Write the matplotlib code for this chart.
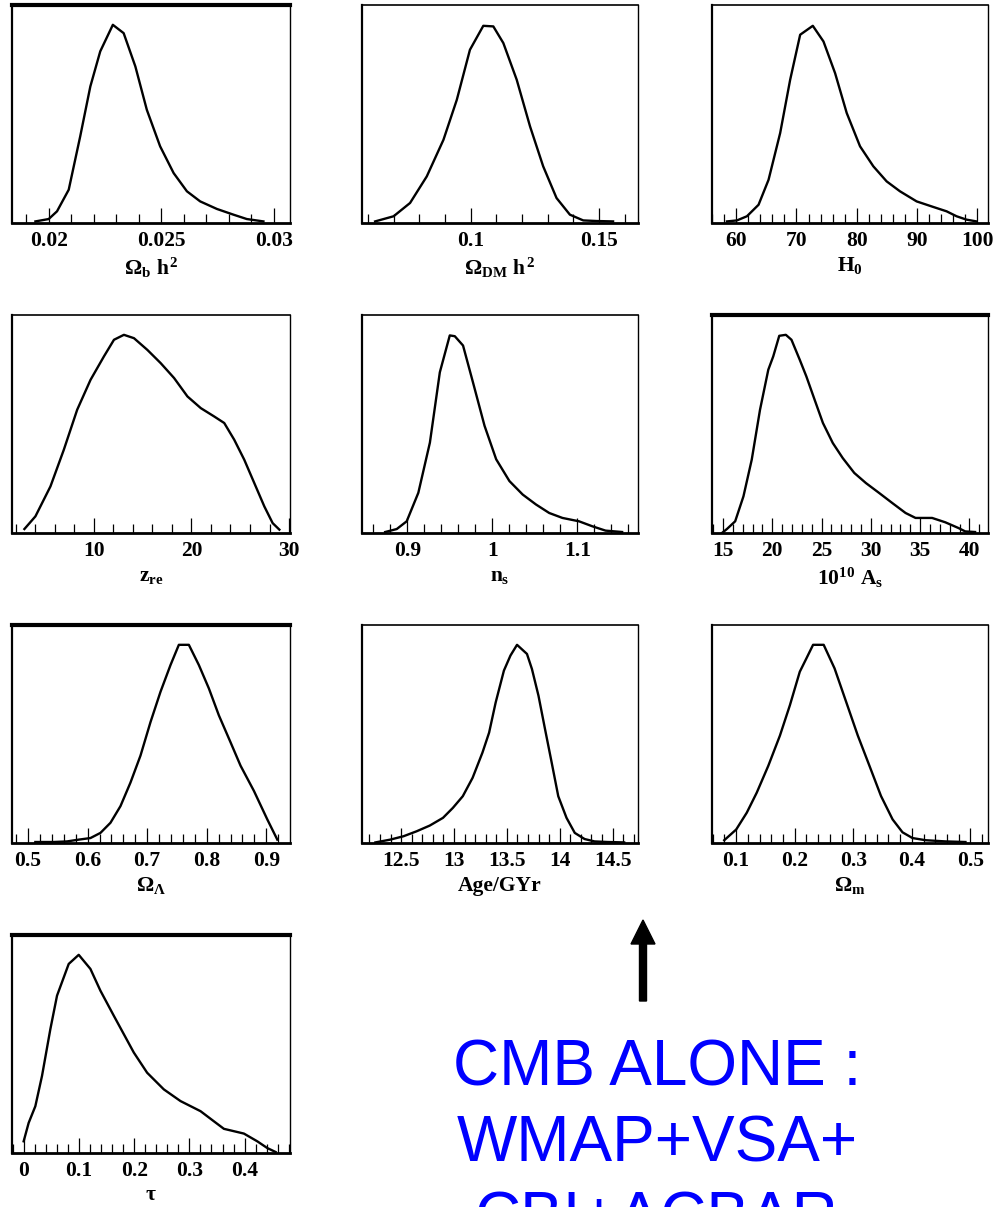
import matplotlib
matplotlib.use('Agg')
import matplotlib.pyplot as plt
from matplotlib.ticker import FixedLocator, MultipleLocator, NullFormatter, FixedFormatter
from matplotlib.patches import FancyArrow

plt.rcParams['font.family'] = ['Liberation Serif', 'DejaVu Serif']
plt.rcParams['font.weight'] = 'bold'
plt.rcParams['mathtext.fontset'] = 'custom'
plt.rcParams['mathtext.rm'] = 'Liberation Serif:bold'
plt.rcParams['mathtext.it'] = 'Liberation Serif:bold'
plt.rcParams['mathtext.bf'] = 'Liberation Serif:bold'

# ---------------- data (normalised 1-D posteriors) ----------------
ombh2_x = [0.01941, 0.0200, 0.02037, 0.02089, 0.02140, 0.02185, 0.02229, 0.02285, 0.02333,
           0.02385, 0.02436, 0.02495, 0.02555, 0.02614, 0.02673, 0.02747, 0.02821, 0.02880, 0.02954]
ombh2_p = [0.008, 0.020, 0.059, 0.168, 0.437, 0.689, 0.866, 1.0, 0.958,
           0.790, 0.571, 0.387, 0.252, 0.160, 0.109, 0.071, 0.042, 0.020, 0.008]

omdmh2_x = [0.0628, 0.0700, 0.0764, 0.0829, 0.0894, 0.0946, 0.0997, 0.1049, 0.1088, 0.1127,
            0.1179, 0.1231, 0.1282, 0.1334, 0.1386, 0.1438, 0.1490, 0.1554]
omdmh2_p = [0.008, 0.034, 0.101, 0.235, 0.420, 0.622, 0.874, 0.995, 0.992, 0.908,
            0.723, 0.487, 0.286, 0.126, 0.042, 0.013, 0.010, 0.008]

h0_x = [58.45, 60.11, 61.77, 63.70, 65.36, 67.29, 68.95, 70.61, 72.71, 74.48, 76.41,
        78.34, 80.55, 82.76, 84.97, 87.18, 89.95, 92.71, 94.92, 96.58, 98.23, 99.89]
h0_p = [0.008, 0.013, 0.034, 0.092, 0.218, 0.454, 0.723, 0.950, 0.995, 0.916, 0.756,
        0.555, 0.387, 0.286, 0.210, 0.160, 0.109, 0.081, 0.059, 0.034, 0.017, 0.008]

zre_x = [2.88, 4.01, 5.55, 6.92, 8.29, 9.66, 11.03, 12.06, 13.08, 14.11, 15.48, 16.85,
         18.22, 19.59, 20.96, 22.33, 23.36, 24.38, 25.41, 26.44, 27.47, 28.32, 29.01]
zre_p = [0.020, 0.084, 0.235, 0.420, 0.622, 0.773, 0.891, 0.975, 1.0, 0.983, 0.924, 0.857,
         0.782, 0.689, 0.630, 0.588, 0.555, 0.471, 0.370, 0.252, 0.134, 0.050, 0.017]

ns_x = [0.8739, 0.8875, 0.8992, 0.9129, 0.9265, 0.9382, 0.9499, 0.9558, 0.9655, 0.9772, 0.9908,
        1.0045, 1.0201, 1.0357, 1.0513, 1.0669, 1.0825, 1.1020, 1.1176, 1.1332, 1.1527]
ns_p = [0.005, 0.020, 0.059, 0.203, 0.456, 0.811, 0.997, 0.993, 0.946, 0.760, 0.541,
        0.372, 0.262, 0.194, 0.144, 0.101, 0.076, 0.059, 0.034, 0.012, 0.005]

as_x = [14.90, 15.40, 16.24, 17.08, 17.92, 18.76, 19.60, 20.10, 20.71, 21.38, 21.95, 22.79,
        23.46, 24.30, 25.14, 26.14, 27.15, 28.32, 29.50, 30.84, 32.18, 33.52, 34.53, 36.21,
        37.55, 38.89, 39.57, 40.57]
as_p = [0.0, 0.020, 0.059, 0.185, 0.370, 0.622, 0.824, 0.891, 0.995, 1.0, 0.975, 0.874,
        0.790, 0.672, 0.555, 0.454, 0.378, 0.303, 0.252, 0.202, 0.151, 0.101, 0.076, 0.076,
        0.054, 0.025, 0.008, 0.005]

oml_x = [0.5123, 0.5431, 0.5655, 0.5852, 0.6048, 0.6216, 0.6384, 0.6552, 0.6720, 0.6888,
         0.7056, 0.7224, 0.7392, 0.7532, 0.7700, 0.7868, 0.8036, 0.8204, 0.8400, 0.8568,
         0.8792, 0.9017, 0.9185]
oml_p = [0.005, 0.005, 0.008, 0.017, 0.025, 0.051, 0.102, 0.186, 0.305, 0.441,
         0.610, 0.763, 0.898, 1.0, 1.0, 0.898, 0.780, 0.644, 0.508, 0.390,
         0.263, 0.119, 0.017]

age_x = [12.257, 12.397, 12.522, 12.646, 12.771, 12.896, 12.989, 13.083, 13.176, 13.269,
         13.332, 13.394, 13.472, 13.534, 13.596, 13.690, 13.737, 13.799, 13.861, 13.924,
         13.986, 14.064, 14.142, 14.235, 14.329, 14.453, 14.609]
age_p = [0.003, 0.017, 0.034, 0.059, 0.088, 0.127, 0.177, 0.236, 0.329, 0.456,
         0.557, 0.709, 0.870, 0.946, 1.0, 0.954, 0.878, 0.743, 0.574, 0.405,
         0.236, 0.127, 0.051, 0.020, 0.008, 0.005, 0.003]

omm_x = [0.0796, 0.1000, 0.1181, 0.1351, 0.1549, 0.1747, 0.1917, 0.2086, 0.2200, 0.2313, 0.2494,
         0.2680, 0.2878, 0.3077, 0.3275, 0.3473, 0.3671, 0.3840, 0.4010, 0.4236, 0.4576, 0.4915]
omm_p = [0.014, 0.068, 0.153, 0.254, 0.390, 0.542, 0.695, 0.864, 0.932, 1.0, 1.0,
         0.881, 0.712, 0.542, 0.390, 0.237, 0.119, 0.054, 0.025, 0.014, 0.008, 0.005]

tau_x = [0.0, 0.00906, 0.02115, 0.03323, 0.04834, 0.06042, 0.08157, 0.09969, 0.12084, 0.13897,
         0.16313, 0.19939, 0.22355, 0.25376, 0.28397, 0.32023, 0.34439, 0.36252, 0.39877,
         0.42294, 0.44107, 0.45617]
tau_p = [0.059, 0.152, 0.236, 0.389, 0.625, 0.794, 0.954, 1.0, 0.929, 0.819,
         0.693, 0.507, 0.405, 0.321, 0.262, 0.211, 0.160, 0.122, 0.098,
         0.059, 0.025, 0.005]

# axis labels, x ranges, ticks
x_labels = [r'$\Omega_b\ h^2$', r'$\Omega_{DM}\ h^2$', r'$H_0$',
            r'$z_{re}$', r'$n_s$', r'$10^{10}\ A_s$',
            r'$\Omega_\Lambda$', 'Age/GYr', r'$\Omega_m$',
            r'$\tau$']
x_ranges = [(0.01837, 0.03072), (0.0577, 0.1651), (55.97, 101.8),
            (1.61, 30.1), (0.8466, 1.1714), (13.89, 41.88),
            (0.4731, 0.9398), (12.13, 14.74), (0.0587, 0.530),
            (-0.0211, 0.4822)]
major_ticks = [[0.02, 0.025, 0.03], [0.1, 0.15], [60, 70, 80, 90, 100],
               [10, 20, 30], [0.9, 1.0, 1.1], [15, 20, 25, 30, 35, 40],
               [0.5, 0.6, 0.7, 0.8, 0.9], [12.5, 13, 13.5, 14, 14.5], [0.1, 0.2, 0.3, 0.4, 0.5],
               [0, 0.1, 0.2, 0.3, 0.4]]
tick_labels = [['0.02', '0.025', '0.03'], ['0.1', '0.15'], ['60', '70', '80', '90', '100'],
               ['10', '20', '30'], ['0.9', '1', '1.1'], ['15', '20', '25', '30', '35', '40'],
               ['0.5', '0.6', '0.7', '0.8', '0.9'], ['12.5', '13', '13.5', '14', '14.5'],
               ['0.1', '0.2', '0.3', '0.4', '0.5'], ['0', '0.1', '0.2', '0.3', '0.4']]
minor_steps = [0.001, 0.01, 2, 2, 0.02, 1, 0.02, 0.1, 0.02, 0.02]
curves = [(ombh2_x, ombh2_p), (omdmh2_x, omdmh2_p), (h0_x, h0_p),
          (zre_x, zre_p), (ns_x, ns_p), (as_x, as_p),
          (oml_x, oml_p), (age_x, age_p), (omm_x, omm_p),
          (tau_x, tau_p)]
thick_top = [True, False, False, False, False, True, True, False, False, True]

annotation_lines = ['CMB ALONE :', 'WMAP+VSA+', 'CBI+ACBAR']

# ---------------- layout ----------------
W, H = 994, 1207
fig = plt.figure(figsize=(W / 100, H / 100), dpi=100)
col_x = [(12, 290), (362, 638), (712, 988)]
row_y = [(5, 223), (315, 533), (625, 843), (935, 1153)]

for i in range(10):
    r, c = divmod(i, 3)
    x0, x1 = col_x[c]
    y0, y1 = row_y[r]
    ax = fig.add_axes([x0 / W, 1 - y1 / H, (x1 - x0) / W, (y1 - y0) / H])
    xs, ps = curves[i]
    ax.plot(xs, ps, color='black', lw=1.7, solid_joinstyle='round')
    ax.set_xlim(*x_ranges[i])
    ax.set_ylim(0, 1.1)
    ax.xaxis.set_major_locator(FixedLocator(major_ticks[i]))
    ax.xaxis.set_major_formatter(FixedFormatter(tick_labels[i]))
    ax.xaxis.set_minor_locator(MultipleLocator(minor_steps[i]))
    ax.xaxis.set_minor_formatter(NullFormatter())
    ax.tick_params(axis='x', which='major', direction='in', length=11, width=0.9,
                   pad=6, labelsize=15.5)
    ax.tick_params(axis='x', which='minor', direction='in', length=6.5, width=0.9)
    ax.set_yticks([])
    for lab in ax.get_xticklabels():
        lab.set_fontweight('bold')
    ax.set_xlabel(x_labels[i], fontsize=15.5, fontweight='bold', labelpad=3)
    ax.spines['bottom'].set_linewidth(2.0)
    ax.spines['left'].set_linewidth(1.6)
    ax.spines['right'].set_linewidth(1.0)
    ax.spines['top'].set_linewidth(3.0 if thick_top[i] else 1.2)

# overlay for annotation (pixel coordinates)
ov = fig.add_axes([0, 0, 1, 1], facecolor='none')
ov.set_xlim(0, W)
ov.set_ylim(H, 0)
ov.axis('off')
ov.add_patch(FancyArrow(643, 1001, 0, -81, width=7, head_width=24, head_length=24,
                        length_includes_head=True, color='black'))
for k, line in enumerate(annotation_lines):
    ov.text(657, 1086 + 76 * k, line, color='#0000ff', fontsize=46,
            family='Liberation Sans', fontweight='normal', ha='center', va='baseline',
            clip_on=False)

fig.savefig('out.png', dpi=100)
